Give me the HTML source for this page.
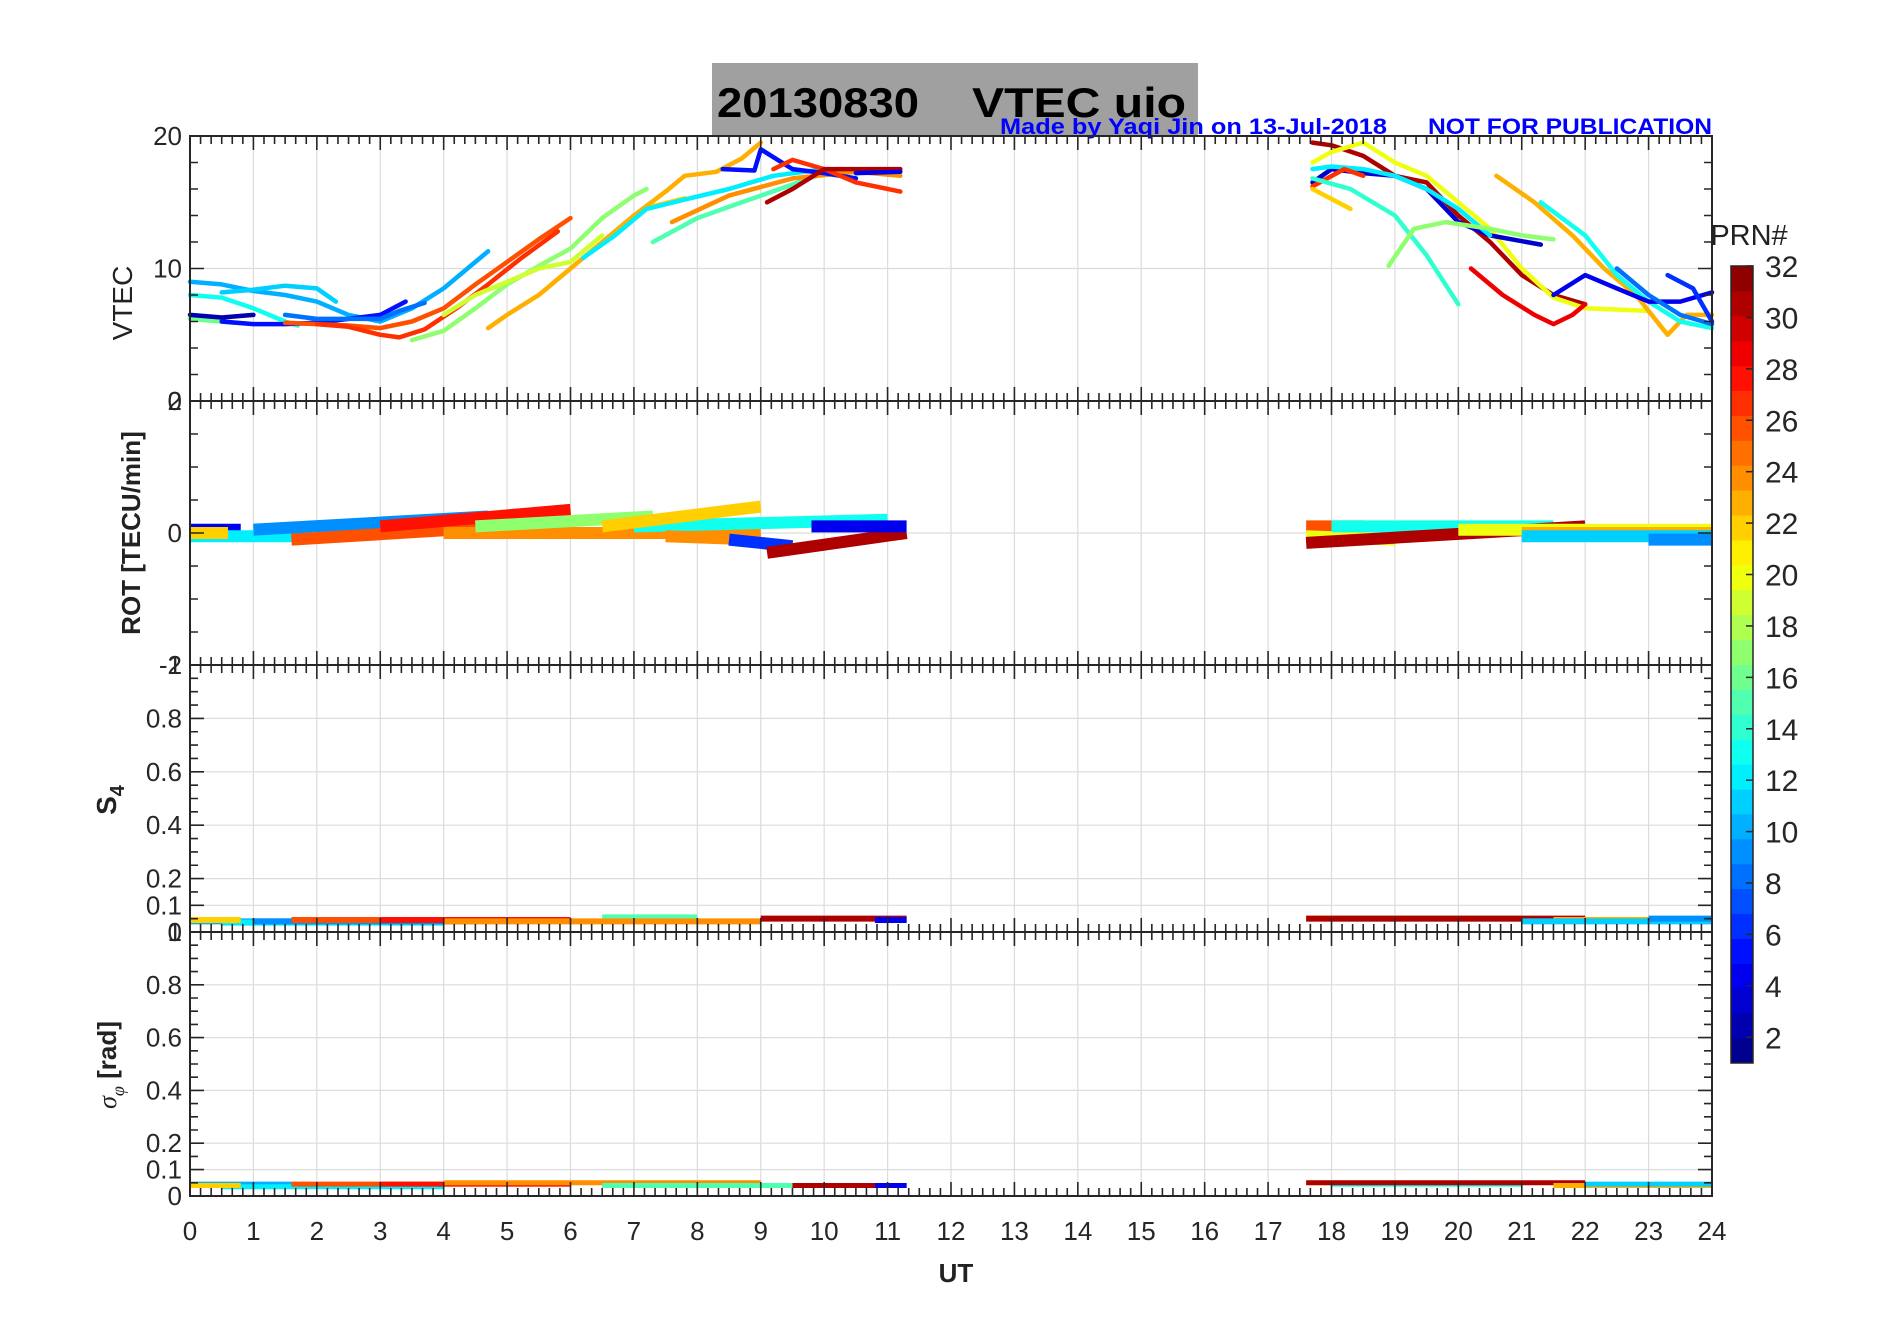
<!DOCTYPE html>
<html><head><meta charset="utf-8"><style>
html,body{margin:0;padding:0;background:#fff;}
svg{display:block;font-family:"Liberation Sans",sans-serif;}
</style></head><body>
<svg id="fig" width="1902" height="1330" viewBox="0 0 1902 1330" xmlns="http://www.w3.org/2000/svg">
<rect x="0" y="0" width="1902" height="1330" fill="#fff"/>
<rect x="712" y="63" width="486" height="72" fill="#a0a0a0"/>
<text x="717" y="117" font-size="42" font-weight="bold" fill="#000" textLength="202" lengthAdjust="spacingAndGlyphs">20130830</text>
<text x="972" y="117" font-size="42" font-weight="bold" fill="#000" textLength="214" lengthAdjust="spacingAndGlyphs">VTEC  uio</text>
<text x="1000" y="134" font-size="22" font-weight="bold" fill="#0000ff" textLength="387" lengthAdjust="spacingAndGlyphs">Made by Yaqi Jin on 13-Jul-2018</text>
<text x="1428" y="134" font-size="22" font-weight="bold" fill="#0000ff" textLength="284" lengthAdjust="spacingAndGlyphs">NOT FOR PUBLICATION</text>
<g id="grid"></g>
<g id="marks"></g>
<g id="axes"></g>
<g id="cbar"></g>
<text x="956" y="1282" font-size="26" font-weight="bold" text-anchor="middle" fill="#222">UT</text>
<text transform="translate(132,303) rotate(-90)" font-size="28" text-anchor="middle" fill="#222">VTEC</text>
<text transform="translate(140,533) rotate(-90)" font-size="26" font-weight="bold" text-anchor="middle" fill="#222">ROT [TECU/min]</text>
<text transform="translate(116,800) rotate(-90)" font-size="28" font-weight="bold" text-anchor="middle" fill="#222">S<tspan font-size="20" dy="8">4</tspan></text>
<text transform="translate(116,1065) rotate(-90)" font-size="26" font-weight="bold" text-anchor="middle" fill="#222"><tspan font-style="italic" font-family="Liberation Serif,serif" font-weight="normal">σ</tspan><tspan font-size="18" dy="8" font-style="italic" font-family="Liberation Serif,serif" font-weight="normal">φ</tspan><tspan dy="-8"> [rad]</tspan></text>
<text x="1749" y="245" font-size="29" text-anchor="middle" fill="#222">PRN#</text>
</svg>
<script>
// ---------- data ----------
const xTicks = [0,1,2,3,4,5,6,7,8,9,10,11,12,13,14,15,16,17,18,19,20,21,22,23,24];
const vtecTicks = [0,10,20];
const rotTicks = [-2,0,2];
const s4Ticks = [0,0.1,0.2,0.4,0.6,0.8,1];
const cbarTicks = [2,4,6,8,10,12,14,16,18,20,22,24,26,28,30,32];
const vtecPrn = [10,11,13,16,2,5,8,26,27,17,19,23,22,12,15,24,5,27,31,4,31,20,3,12,27,14,17,22,23,29,13,4,8,6];
const vtecPts = [
 [[0,9],[0.5,8.8],[1,8.3],[1.5,8.0],[2,7.5],[2.5,6.5],[3,6.0],[3.5,7.0],[4,8.5],[4.5,10.5],[4.7,11.3]],
 [[0.5,8.2],[1,8.4],[1.5,8.7],[2,8.5],[2.3,7.5]],
 [[0,8],[0.5,7.8],[1,7],[1.5,6],[1.7,5.7]],
 [[0,6.2],[0.7,5.9]],
 [[0,6.5],[0.5,6.3],[1,6.5]],
 [[0.5,6.0],[1,5.8],[1.5,5.8],[2,5.9],[2.5,6.2],[3,6.5],[3.4,7.5]],
 [[1.5,6.5],[2,6.2],[2.5,6.2],[3,6.2],[3.3,6.8],[3.7,7.4]],
 [[1.5,5.9],[2,5.8],[2.5,5.7],[3,5.5],[3.5,6.0],[4,7],[4.5,8.8],[5,10.5],[5.5,12.2],[6,13.8]],
 [[2,5.8],[2.5,5.6],[3,5.0],[3.3,4.8],[3.7,5.4],[4.2,7],[4.7,8.8],[5.2,10.7],[5.8,12.8]],
 [[3.5,4.6],[4,5.3],[4.5,7],[5,8.8],[5.5,10.2],[6,11.5],[6.5,13.8],[7,15.5],[7.2,16]],
 [[4,6.5],[4.5,8],[5,9],[5.5,10],[6,10.5],[6.5,12.5]],
 [[4.7,5.5],[5,6.5],[5.5,8],[6,10],[6.5,12],[7,14],[7.5,15.8],[7.8,17],[8.3,17.3],[8.7,18.3],[9,19.5]],
 [[7.3,14.7],[7.8,15.3]],
 [[6.2,10.8],[6.7,12.5],[7.2,14.5],[7.8,15.2],[8.5,16],[9.2,17],[10,17.5],[10.5,17.3]],
 [[7.3,12],[8,13.8],[8.7,15],[9.3,16],[10,17.2],[11,17.5]],
 [[7.6,13.5],[8.5,15.5],[9.5,16.8],[10.5,17.3],[11.2,17]],
 [[8.4,17.5],[8.9,17.4],[9,19],[9.5,17.5],[10,17.2],[10.5,16.8]],
 [[9.2,17.5],[9.5,18.2],[10,17.5],[10.5,16.5],[11.2,15.8]],
 [[9.1,15.0],[9.5,16],[10,17.5],[10.5,17.5],[11.2,17.5]],
 [[10.5,17.2],[11.2,17.3]],
 [[17.7,19.5],[18,19.3],[18.5,18.5],[19,17],[19.5,16.5],[20,14],[20.5,12],[21,9.5],[21.5,8],[22,7.3]],
 [[17.7,18],[18,18.8],[18.5,19.5],[19,18],[19.5,17],[20,15],[20.5,13],[21,10],[21.5,7.8],[22,7],[23,6.8]],
 [[17.7,16.5],[18,17.5],[18.5,17.2],[19,17],[19.5,16],[20,13.5],[20.5,12.5],[21.3,11.8]],
 [[17.7,17.5],[18,17.7],[18.5,17.5],[19,17],[19.5,16],[20,14.5],[20.5,12.5]],
 [[17.7,16.2],[18.2,17.5],[18.5,17]],
 [[17.7,16.8],[18.3,16],[19,14],[19.5,11],[20,7.3]],
 [[18.9,10.2],[19.3,13],[19.8,13.5],[20.5,13],[21,12.5],[21.5,12.2]],
 [[17.7,16],[18.3,14.5]],
 [[20.6,17],[21.2,15],[21.8,12.5],[22.3,10],[22.8,8],[23.3,5],[23.6,6.5],[24,6.5]],
 [[20.2,10],[20.7,8],[21.2,6.5],[21.5,5.8],[21.8,6.5],[22,7.3]],
 [[21.3,15],[22,12.5],[22.5,9.5],[23,7.5],[23.5,6],[24,5.5]],
 [[21.5,8],[22,9.5],[22.5,8.5],[23,7.5],[23.5,7.5],[24,8.2]],
 [[22.5,10],[23,8],[23.5,6.5],[24,5.8]],
 [[23.3,9.5],[23.7,8.5],[24,6]]
];
const rotPrn   = [4,12,9,22,26,28,24,17,13,22,24,6,31,4, 26,20,13,31,20,23,11,9];
const rotStart = [0,0,1,0,1.6,3,4,4.5,7,6.5,7.5,8.5,9.1,9.8, 17.6,17.6,18,17.6,20,21,21,23];
const rotEnd   = [0.8,1.8,4.7,0.6,5,6,9,7.3,11,9,9,9.5,11.3,11.3, 18.5,19,21.5,22,24,24,24,24];
const rotV0    = [0.05,-0.05,0.05,0,-0.1,0.1,0,0.1,0.1,0.1,-0.05,-0.1,-0.3,0.1, 0.1,-0.05,0.1,-0.15,0.05,0,-0.05,-0.1];
const rotV1    = [0.05,-0.05,0.25,0,0.1,0.35,0,0.25,0.2,0.4,-0.1,-0.2,0,0.1, 0.1,-0.1,0.1,0.1,0.05,0,-0.05,-0.1];
const s4Prn   = [10,12,22,9,26,28,15,24,31,4, 20,13,31,23,11,9];
const s4Start = [0,0.5,0,1,1.6,3,6.5,4,9,10.8, 17.6,18,17.6,21.5,21,23];
const s4End   = [1.6,4,0.8,4.5,6,6,8,9,11.3,11.3, 20.5,21,22,24,24,24];
const s4Val   = [0.04,0.035,0.045,0.04,0.045,0.045,0.055,0.04,0.05,0.045, 0.05,0.05,0.05,0.045,0.04,0.05];
const spPrn   = [10,12,22,26,28,24,15,31,4, 20,13,31,23,11];
const spStart = [0,0.5,0,1.6,3,4,6.5,9.5,10.8, 17.6,18,17.6,21.5,22];
const spEnd   = [1.6,4,0.8,6,6,9,9.5,11.3,11.3, 20,21,22,24,24];
const spVal   = [0.045,0.035,0.04,0.045,0.045,0.05,0.04,0.04,0.04, 0.05,0.045,0.05,0.04,0.045];

// ---------- layout ----------
const NS="http://www.w3.org/2000/svg";
const X0=190, X1=1712;
const panels=[{t:136,b:401,min:0,max:20,ticks:vtecTicks,minor:2},
              {t:401,b:665,min:-2,max:2,ticks:rotTicks,minor:0.5},
              {t:665,b:932,min:0,max:1,ticks:s4Ticks,minor:0.05},
              {t:932,b:1196,min:0,max:1,ticks:s4Ticks,minor:0.05}];
const panelNames=['vtec-panel','rot-panel','s4-panel','sigma-panel'];
function xs(t){return X0+t*(X1-X0)/24;}
function ys(p,v){return p.b-(v-p.min)/(p.max-p.min)*(p.b-p.t);}
function jet(k){
  const v=(k-0.5)/32;
  const f=x=>Math.max(0,Math.min(1,x));
  const r=f(1.5-Math.abs(4*v-3)), g=f(1.5-Math.abs(4*v-2)), b=f(1.5-Math.abs(4*v-1));
  return `rgb(${Math.round(r*255)},${Math.round(g*255)},${Math.round(b*255)})`;
}
function mk(tag,attrs,parent){const e=document.createElementNS(NS,tag);for(const k in attrs)e.setAttribute(k,attrs[k]);parent.appendChild(e);return e;}
const grid=document.getElementById('grid'), marks=document.getElementById('marks'), axes=document.getElementById('axes'), cbar=document.getElementById('cbar');

panels.forEach((p,i)=>{
  xTicks.forEach(t=>{const l=mk('line',{x1:xs(t),x2:xs(t),y1:p.t,y2:p.b,stroke:'#dcdcdc','stroke-width':1.2},grid);
    
    });
  p.ticks.forEach(v=>{const l=mk('line',{x1:X0,x2:X1,y1:ys(p,v),y2:ys(p,v),stroke:'#dcdcdc','stroke-width':1.2},grid);
    
    });
  const box=mk('rect',{x:X0,y:p.t,width:X1-X0,height:p.b-p.t,fill:'none',stroke:'#262626','stroke-width':2},axes);
  
  
  let d='';
  for(let k=0;k<=24*6;k++){const x=xs(k/6);const L=(k%6==0)?14:8;d+=`M${x} ${p.b}v${-L}M${x} ${p.t}v${L}`;}
  const nm=Math.round((p.max-p.min)/p.minor);
  for(let k=0;k<=nm;k++){const v=p.min+k*p.minor;const y=ys(p,v);const maj=p.ticks.some(t=>Math.abs(t-v)<1e-6);const L=maj?14:8;d+=`M${X0} ${y}h${L}M${X1} ${y}h${-L}`;}
  mk('path',{d:d,stroke:'#262626','stroke-width':1.6,fill:'none'},axes);
  p.ticks.forEach(v=>{const tx=mk('text',{x:X0-8,y:ys(p,v)+9,'font-size':26,'text-anchor':'end',fill:'#262626'},axes);tx.textContent=String(v);
    
    });
});
xTicks.forEach(t=>{const tx=mk('text',{x:xs(t),y:1240,'font-size':26,'text-anchor':'middle',fill:'#262626'},axes);tx.textContent=String(t);
  
  });

vtecPts.forEach((pts,i)=>{
  const d=pts.map((q,j)=>(j?'L':'M')+xs(q[0]).toFixed(1)+' '+ys(panels[0],q[1]).toFixed(1)).join('');
  const l=mk('path',{d:d,stroke:jet(vtecPrn[i]),'stroke-width':4.5,fill:'none','stroke-linejoin':'round','stroke-linecap':'round'},marks);
  
  
});
function bands(p,prn,s,e,v0,v1,w,name){
  prn.forEach((k,i)=>{
    const l=mk('line',{x1:xs(s[i]),x2:xs(e[i]),y1:ys(p,v0[i]),y2:ys(p,v1[i]),stroke:jet(k),'stroke-width':w},marks);
    
    
  });
}
bands(panels[1],rotPrn,rotStart,rotEnd,rotV0,rotV1,12,'rot-band');
bands(panels[2],s4Prn,s4Start,s4End,s4Val,s4Val,6,'s4-band');
bands(panels[3],spPrn,spStart,spEnd,spVal,spVal,5,'sigma-band');

const CB={x:1731,w:22,t:266,b:1063};
for(let k=1;k<=32;k++){
  const y0=CB.b-(k)*(CB.b-CB.t)/32;
  const r=mk('rect',{x:CB.x,y:y0,width:CB.w,height:(CB.b-CB.t)/32+0.5,fill:jet(k)},cbar);
  
  
}
const cbb=mk('rect',{x:CB.x,y:CB.t,width:CB.w,height:CB.b-CB.t,fill:'none',stroke:'#262626','stroke-width':1.5},cbar);


cbarTicks.forEach(v=>{
  const y=CB.b-(v-1)/31*(CB.b-CB.t);
  mk('line',{x1:CB.x+CB.w-7,x2:CB.x+CB.w,y1:y,y2:y,stroke:'#262626','stroke-width':1.5},cbar);
  const tx=mk('text',{x:CB.x+CB.w+12,y:y+11,'font-size':30,fill:'#262626'},cbar);tx.textContent=String(v);
  
  
});
</script>
</body></html>
